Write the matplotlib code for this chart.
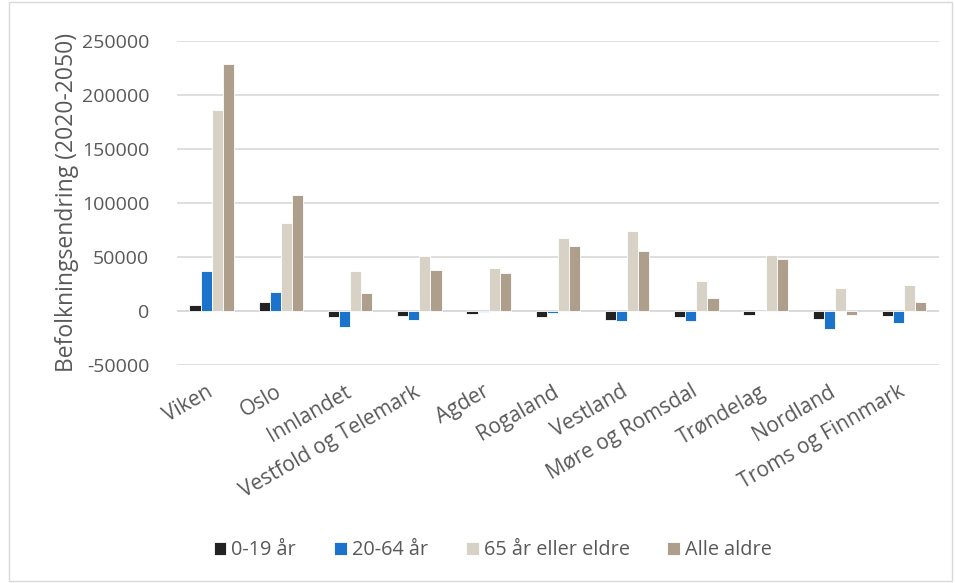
import numpy as np
import matplotlib
matplotlib.use('Agg')
import matplotlib.pyplot as plt
from matplotlib.patches import Rectangle
from matplotlib.ticker import FuncFormatter
from matplotlib.transforms import ScaledTranslation

plt.rcParams['font.family'] = ['Open Sans', 'DejaVu Sans']

# regions and population change 2020-2050
regions = ['Viken', 'Oslo', 'Innlandet', 'Vestfold og Telemark', 'Agder', 'Rogaland',
           'Vestland', 'Møre og Romsdal', 'Trøndelag', 'Nordland', 'Troms og Finnmark']
age_0_19 = [5300, 8000, -5500, -5000, -3000, -5500, -8900, -6100, -3700, -7700, -4900]
age_20_64 = [37000, 17600, -14800, -8600, -1000, -2000, -9200, -9900, -300, -17200, -11700]
age_65 = [185800, 80900, 37000, 50600, 39200, 67300, 73800, 27800, 51500, 20700, 24100]
all_ages = [228400, 107100, 16700, 37400, 34600, 59600, 55300, 11800, 47900, -4000, 8000]

series = [age_0_19, age_20_64, age_65, all_ages]
labels = ['0-19 år', '20-64 år', '65 år eller eldre', 'Alle aldre']
colors = ['#222222', '#1b73cb', '#d8d1c5', '#ad9f8c']
txt = '#595959'

fig = plt.figure(figsize=(9.55, 5.83), dpi=100)
ax = fig.add_axes([0.1853, 0.3745, 0.7977, 0.5557])

x = np.arange(len(regions))
w = 0.16
for i, (vals, lab, c) in enumerate(zip(series, labels, colors)):
    ax.bar(x + (i - 1.5) * w, vals, w, color=c, label=lab, edgecolor='white', linewidth=0.6, zorder=3)

ax.set_xlim(-0.5, len(regions) - 0.5)
ax.set_ylim(-50000, 250000)
ax.set_yticks(range(-50000, 250001, 50000))
ax.yaxis.set_major_formatter(FuncFormatter(lambda v, p: '%d' % v))
ax.yaxis.grid(True, color='#d9d9d9', linewidth=1.2, zorder=0)
ax.axhline(0, color='#d9d9d9', linewidth=1.2, zorder=2)
for s in ax.spines.values():
    s.set_visible(False)
ax.tick_params(axis='both', length=0, labelsize=14, colors=txt)
ax.tick_params(axis='y', pad=20)
ax.set_xticks(x)
ax.set_xticklabels(regions, rotation=30, ha='right', rotation_mode='anchor', fontsize=15, color=txt)
ax.tick_params(axis='x', pad=12)
# nudge rotated labels a little to the left
shift = ScaledTranslation(-6 / 100, 0, fig.dpi_scale_trans)
for lbl in ax.get_xticklabels():
    lbl.set_transform(lbl.get_transform() + shift)
ax.set_ylabel('Befolkningsendring (2020-2050)', fontsize=16.5, color=txt, labelpad=2)

leg = fig.legend(loc='lower center', bbox_to_anchor=(0.516, 0.008), ncol=4, frameon=False,
                 fontsize=14.3, handlelength=0.65, handleheight=0.65, handletextpad=0.25, columnspacing=1.9)
for t in leg.get_texts():
    t.set_color(txt)

fig.patches.append(Rectangle((0.009, 0.003), 0.988, 0.994, transform=fig.transFigure,
                             fill=False, edgecolor='#d9d9d9', linewidth=1))

fig.savefig('out.png', dpi=100)
